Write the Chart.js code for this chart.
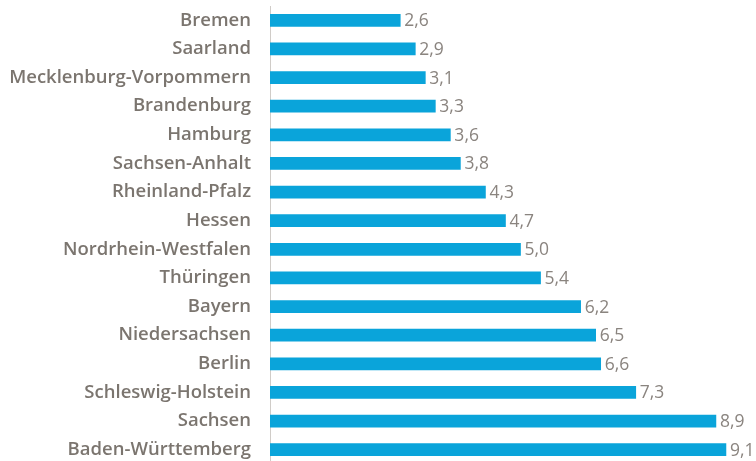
<!DOCTYPE html>
<html><head><meta charset="utf-8">
<script src="https://cdn.jsdelivr.net/npm/chart.js@4/dist/chart.umd.min.js"></script>
<style>html,body{margin:0;padding:0;background:#fff;overflow:hidden}#wrap{width:756px;height:464px;position:relative}</style>
</head><body><div id="wrap"><canvas id="c"></canvas></div>
<script>
const categories = ["Bremen","Saarland","Mecklenburg-Vorpommern","Brandenburg","Hamburg","Sachsen-Anhalt","Rheinland-Pfalz","Hessen","Nordrhein-Westfalen","Thüringen","Bayern","Niedersachsen","Berlin","Schleswig-Holstein","Sachsen","Baden-Württemberg"];
const values = [2.6,2.9,3.1,3.3,3.6,3.8,4.3,4.7,5.0,5.4,6.2,6.5,6.6,7.3,8.9,9.1];

const valueLabels = {
  id:'valueLabels',
  afterDatasetsDraw(chart){
    const ctx = chart.ctx;
    const meta = chart.getDatasetMeta(0);
    ctx.save();
    ctx.font = '400 17.5px "Open Sans", sans-serif';
    ctx.fillStyle = '#8a847f';
    ctx.textAlign = 'left';
    ctx.textBaseline = 'middle';
    meta.data.forEach((bar,i)=>{
      ctx.fillText(values[i].toFixed(1).replace('.',','), bar.x + 4, bar.y + 1);
    });
    ctx.restore();
  }
};

new Chart(document.getElementById('c'), {
  type:'bar',
  data:{labels:categories, datasets:[{data:values, backgroundColor:'#0aa4da', barThickness:12, borderWidth:0}]},
  options:{
    indexAxis:'y',
    responsive:true, maintainAspectRatio:false, animation:false,
    layout:{padding:{top:6,bottom:0,left:0,right:0}},
    plugins:{legend:{display:false}, tooltip:{enabled:false}},
    scales:{
      x:{display:false, min:0, max:9.7},
      y:{
        afterFit(s){ s.width = 270; s.paddingTop = 0; s.paddingBottom = 0; },
        grid:{display:false, drawTicks:false},
        border:{display:true, color:'#d0ccc8', width:1},
        ticks:{padding:19, color:'#7b756f', font:{family:'"Open Sans", sans-serif', size:18.5, weight:'600'}}
      }
    }
  },
  plugins:[valueLabels]
});
</script></body></html>
